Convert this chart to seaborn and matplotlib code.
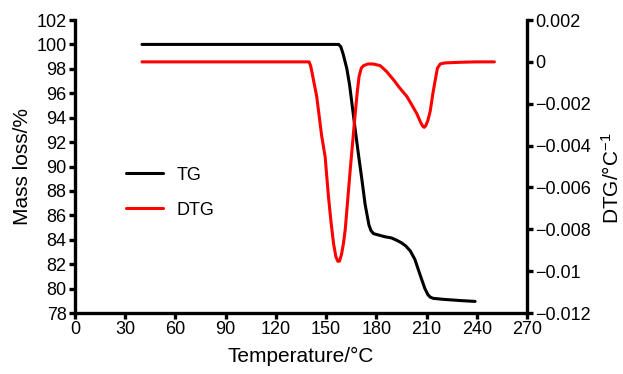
import pandas as pd
import numpy as np
import matplotlib
matplotlib.use("Agg")
import matplotlib.pyplot as plt
import seaborn as sns

# TG curve (mass loss %)
tg_temp = [40, 80, 120, 150, 157.5, 158.8, 160.2, 162.4, 164.0, 165.4, 167.4, 169.4,
           171.4, 173.3, 174.5, 175.6, 176.8, 178.3, 181, 185, 189, 192.3, 195, 197.5,
           200.2, 203, 206.2, 209, 210.8, 212.2, 214, 220, 230, 239]
tg_mass = [100.0, 100.0, 100.0, 100.0, 100.0, 99.8, 99.2, 98.0, 96.7, 95.2, 93.0, 90.9,
           88.9, 86.9, 86.0, 85.2, 84.75, 84.5, 84.4, 84.25, 84.15, 83.95, 83.75, 83.5,
           83.1, 82.4, 81.1, 80.0, 79.5, 79.3, 79.2, 79.12, 79.02, 78.95]

# DTG curve (1/°C)
dtg_temp = [40, 80, 120, 139.8, 140.8, 141.8, 144.4, 147.4, 149.4, 151.4, 153.0, 154.4,
            155.8, 157.0, 158.0, 159.2, 160.3, 161.4, 164.4, 167.4, 168.6, 169.7, 171.0,
            172.4, 175, 178, 182.3, 186, 190.3, 194, 198.3, 201.5, 204.2, 206.5, 207.8,
            208.6, 209.5, 210.8, 212.2, 213.8, 215.2, 216.5, 218.2, 221, 230, 240, 250.5]
dtg_val = [0.0, 0.0, 0.0, 0.0, -0.0002, -0.0006, -0.00166, -0.00357, -0.00452, -0.00644,
           -0.0077, -0.00866, -0.0093, -0.00953, -0.00952, -0.0092, -0.0087, -0.00803,
           -0.00516, -0.00245, -0.00145, -0.0007, -0.0003, -0.00018, -0.0001, -0.0001,
           -0.00018, -0.00045, -0.00086, -0.00125, -0.00166, -0.0021, -0.00248, -0.0029,
           -0.00308, -0.00313, -0.00305, -0.0028, -0.00235, -0.0015, -0.00086, -0.0003,
           -0.0001, -0.00005, -0.00002, 0.0, 0.0]

x_ticks = list(range(0, 271, 30))
left_ticks = list(range(78, 103, 2))
right_ticks = [0.002, 0, -0.002, -0.004, -0.006, -0.008, -0.01, -0.012]
right_labels = ["0.002", "0", "\u22120.002", "\u22120.004", "\u22120.006",
                "\u22120.008", "\u22120.01", "\u22120.012"]

tg_df = pd.DataFrame({"Temperature": tg_temp, "Mass": tg_mass})
dtg_df = pd.DataFrame({"Temperature": dtg_temp, "DTG": dtg_val})

sns.set_style("ticks")
plt.rcParams["font.family"] = ["Liberation Sans", "DejaVu Sans"]
plt.rcParams["mathtext.fontset"] = "custom"
plt.rcParams["mathtext.rm"] = "Liberation Sans"
plt.rcParams["mathtext.it"] = "Liberation Sans"
plt.rcParams["mathtext.default"] = "regular"
plt.rcParams["text.color"] = "black"
plt.rcParams["axes.labelcolor"] = "black"
plt.rcParams["axes.edgecolor"] = "black"
plt.rcParams["xtick.color"] = "black"
plt.rcParams["ytick.color"] = "black"

fig = plt.figure(figsize=(6.23, 3.74), dpi=100)
ax = fig.add_axes([0.1204, 0.1631, 0.7255, 0.7834])
ax2 = ax.twinx()

sns.lineplot(data=tg_df, x="Temperature", y="Mass", ax=ax, color="black",
             linewidth=2.2, sort=False, label="TG", legend=False)
sns.lineplot(data=dtg_df, x="Temperature", y="DTG", ax=ax2, color="#ff0000",
             linewidth=2.2, sort=False, label="DTG", legend=False)

ax.set_xlim(0, 270)
ax.set_ylim(78, 102)
ax2.set_ylim(-0.012, 0.002)
ax.set_xticks(x_ticks)
ax.set_yticks(left_ticks)
ax2.set_yticks(right_ticks)
ax2.set_yticklabels(right_labels)

for a in (ax, ax2):
    for s in a.spines.values():
        s.set_linewidth(2.4)
        s.set_color("black")
    a.spines["top"].set_visible(False)
    a.tick_params(width=2.4, length=4, labelsize=13, pad=2, colors="black")
ax.spines["right"].set_visible(False)
ax2.spines["left"].set_visible(False)
ax2.spines["bottom"].set_visible(False)

ax.set_xlabel("Temperature/\u00b0C", fontsize=15, labelpad=6)
ax.set_ylabel("Mass loss/%", fontsize=15, labelpad=3)
ax2.set_ylabel("DTG/\u00b0C$^{\u22121}$", fontsize=15)
ax2.yaxis.set_label_coords(1.163, 0.461)

h1, l1 = ax.get_legend_handles_labels()
h2, l2 = ax2.get_legend_handles_labels()
ax.legend(h1 + h2, l1 + l2, loc="upper left", bbox_to_anchor=(0.077, 0.555),
          frameon=False, fontsize=13, handlelength=2.05, handletextpad=0.75,
          labelspacing=1.0)

fig.savefig("out.png", dpi=100)
